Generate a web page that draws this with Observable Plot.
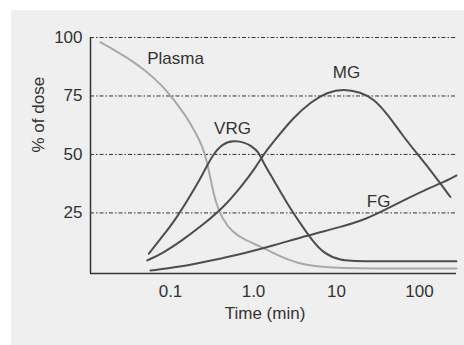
<!DOCTYPE html>
<html><head><meta charset="utf-8">
<script src="https://cdn.jsdelivr.net/npm/d3@7"></script>
<script src="https://cdn.jsdelivr.net/npm/@observablehq/plot@0.6"></script>
<style>
html,body{margin:0;padding:0;background:#fff;}
#panel{position:absolute;left:11px;top:10px;width:453px;height:335px;background:#efefef;}
#panel svg{display:block;}
</style></head><body><div id="panel"></div>
<script>
const xTicks = [0.1, 1, 10, 100];
const xTickLabels = ["0.1", "1.0", "10", "100"];
const yTicks = [25, 50, 75, 100];
const xDomain = [0.01087, 279];
const yDomain = [-0.9, 100];
const xTitle = "Time (min)";
const yTitle = "% of dose";

const seriesNames = ["Plasma", "VRG", "MG", "FG"];
const seriesColors = ["#a9a9a9", "#4d4d4d", "#4d4d4d", "#4d4d4d"];

const plasmaT = [0.0143, 0.0217, 0.0315, 0.0500, 0.0794, 0.1096, 0.152, 0.200, 0.241, 0.277, 0.303, 0.348, 0.420, 0.553, 0.802, 1.27, 1.79, 3.36, 7.03, 33.9, 279];
const plasmaV = [98.0, 94.4, 90.9, 85.9, 79.5, 73.4, 66.7, 59.5, 53.8, 46.7, 39.6, 29.6, 22.5, 16.8, 13.2, 10.4, 7.5, 3.3, 1.6, 1.2, 1.2];

const vrgT = [0.0548, 0.0794, 0.115, 0.166, 0.241, 0.318, 0.420, 0.580, 0.802, 0.921, 1.16, 1.27, 1.76, 2.55, 3.68, 5.09, 7.03, 11.2, 17.7, 279];
const vrgV = [7.6, 14.8, 22.2, 31.3, 41.0, 49.6, 54.6, 56.0, 55.0, 53.8, 51.0, 47.4, 38.9, 28.9, 20.4, 13.2, 7.6, 4.7, 4.3, 4.3];

const mgT = [0.0524, 0.0794, 0.138, 0.241, 0.420, 0.716, 1.087, 1.33, 1.93, 3.06, 4.86, 7.73, 12.2, 19.5, 28.1, 40.8, 64.7, 93.7, 136, 179, 236];
const mgV = [4.7, 7.6, 13.2, 19.7, 26.8, 36.3, 44.9, 50.3, 57.4, 65.9, 72.4, 76.6, 78.1, 76.6, 73.8, 67.4, 57.4, 50.3, 43.2, 37.5, 31.8];

const fgT = [0.0574, 0.126, 0.318, 0.802, 1.76, 4.44, 11.2, 23.4, 40.8, 71.1, 124, 179, 279];
const fgV = [0.4, 1.8, 4.7, 7.9, 11.1, 15.4, 18.9, 22.5, 26.8, 31.1, 35.3, 37.5, 41.0];

const labelT = [0.115, 0.558, 13.2, 32.1];
const labelV = [91.0, 61.1, 85.0, 29.9];

const seriesT = [plasmaT, vrgT, mgT, fgT];
const seriesV = [plasmaV, vrgV, mgV, fgV];
const rows = seriesNames.flatMap((name, k) => seriesT[k].map((t, i) => ({name, t, v: seriesV[k][i]})));
const labelRows = seriesNames.map((name, k) => ({name, t: labelT[k], v: labelV[k]}));
const tickLabelMap = new Map(xTicks.map((d, i) => [d, xTickLabels[i]]));

const chart = Plot.plot({
  width: 453, height: 335,
  marginLeft: 79, marginRight: 8, marginTop: 27, marginBottom: 72,
  style: {background: "transparent", fontFamily: "'Liberation Sans', Arial, Helvetica, sans-serif", fontSize: "17px", color: "#333", overflow: "visible"},
  x: {type: "log", domain: xDomain, ticks: xTicks, tickFormat: d => tickLabelMap.get(d), tickSize: 0, tickPadding: 11, label: null},
  y: {domain: yDomain, ticks: yTicks, tickSize: 0, tickPadding: 8, label: null},
  color: {domain: seriesNames, range: seriesColors},
  marks: [
    Plot.ruleY(yTicks, {stroke: "#333", strokeWidth: 1, strokeDasharray: "4,2,1.5,2"}),
    Plot.line(rows, {x: "t", y: "v", z: "name", stroke: "name", strokeWidth: 2, curve: "basis"}),
    Plot.ruleX([xDomain[0]], {stroke: "#333", strokeWidth: 1.5}),
    Plot.ruleY([yDomain[0]], {stroke: "#333", strokeWidth: 1.5}),
    Plot.text(labelRows, {x: "t", y: "v", text: "name", fill: "#333", fontSize: 17}),
    Plot.text([xTitle], {frameAnchor: "bottom", dx: -8.5, dy: 45, fill: "#333", fontSize: 17}),
    Plot.text([yTitle], {frameAnchor: "left", rotate: -90, dx: -52, dy: -3, fill: "#333", fontSize: 17})
  ]
});
document.getElementById("panel").appendChild(chart);
</script>
</body></html>
